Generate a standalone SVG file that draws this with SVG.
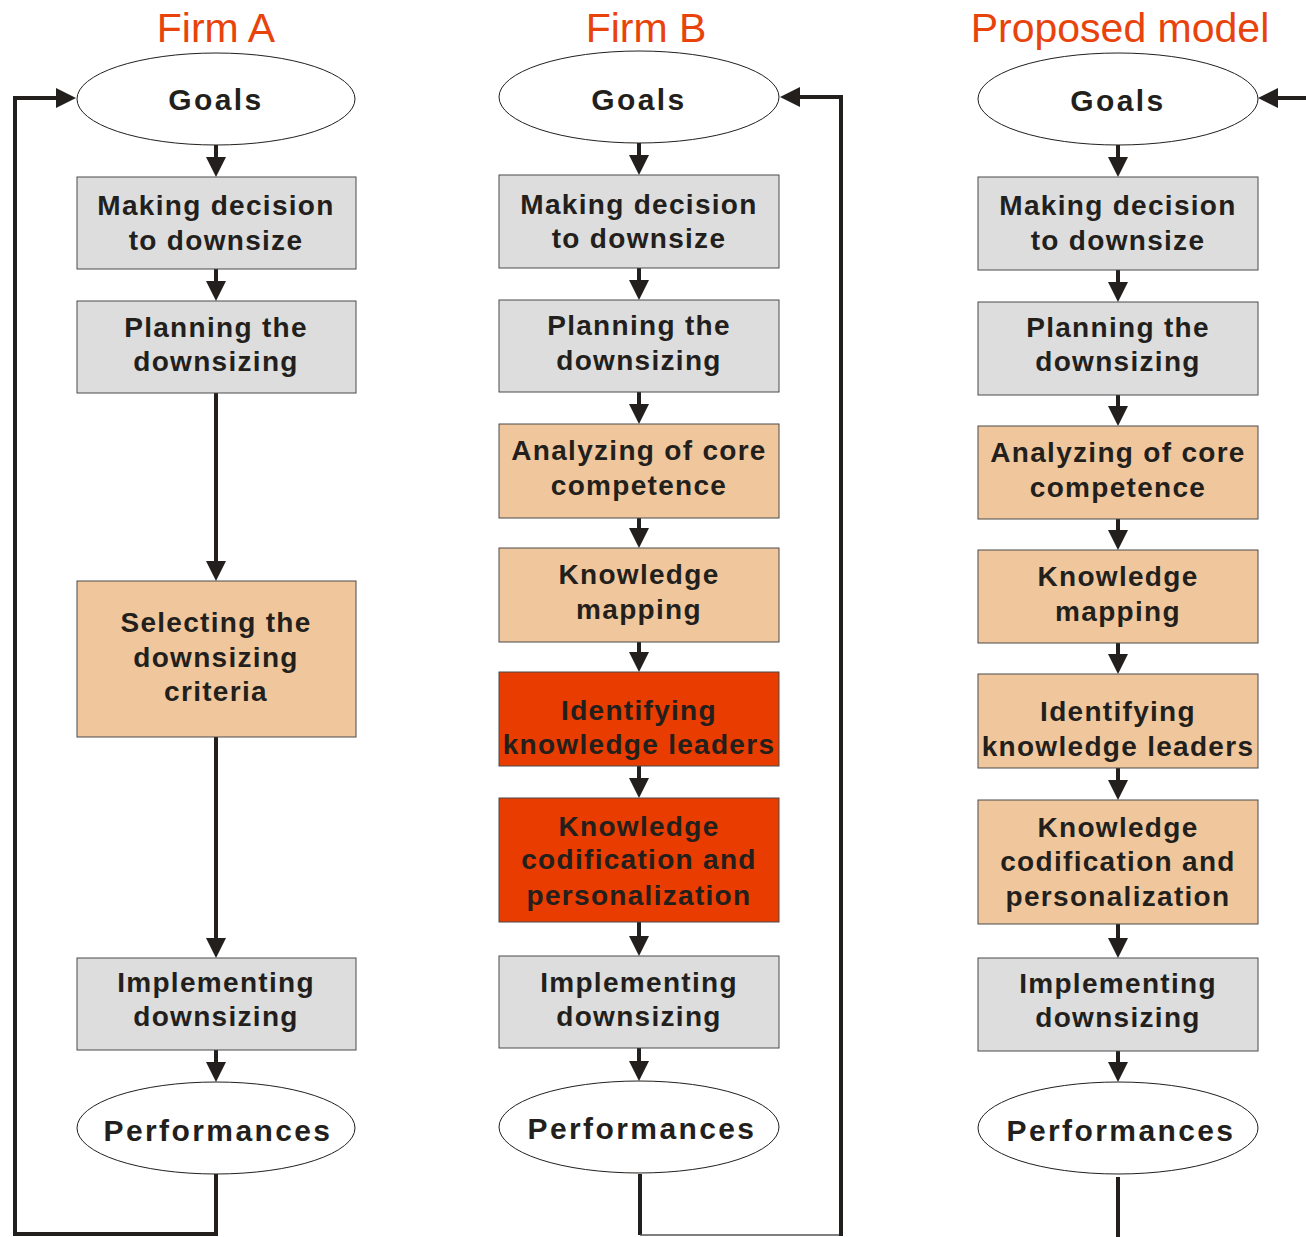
<svg xmlns="http://www.w3.org/2000/svg" width="1306" height="1237" viewBox="0 0 1306 1237">
<style>
.t{font-family:"Liberation Sans",Arial,sans-serif;font-weight:bold;font-size:28px;letter-spacing:1.3px;fill:#231f1c;text-anchor:middle}
.e{font-size:30px;letter-spacing:2.4px}
.title{font-family:"Liberation Sans",Arial,sans-serif;font-size:41px;fill:#e8430b;text-anchor:middle}
.g{fill:#dcdddc;stroke:#4a4a4a;stroke-width:1}
.o{fill:#f0c79c;stroke:#4a4a4a;stroke-width:1}
.r{fill:#e83c00;stroke:#4a4a4a;stroke-width:1}
.el{fill:#fff;stroke:#231f1c;stroke-width:1}
.c{fill:none;stroke:#231f1c;stroke-width:4}
.thin{fill:none;stroke:#555;stroke-width:1.5}
</style>
<defs>
<marker id="ah" viewBox="0 0 20 20" markerWidth="20" markerHeight="20" markerUnits="userSpaceOnUse" refX="0" refY="10" orient="auto">
<path d="M0,0 L20,10 L0,20 z" fill="#231f1c"/>
</marker>
</defs>
<rect width="1306" height="1237" fill="#fff"/>
<text class="title" x="216" y="42">Firm A</text>
<text class="title" x="646" y="42">Firm B</text>
<text class="title" x="1120" y="42">Proposed model</text>

<g id="connectors">
<!-- Firm A -->
<path class="c" d="M216,145 V157" marker-end="url(#ah)"/>
<path class="c" d="M216,269 V281" marker-end="url(#ah)"/>
<path class="c" d="M216,393 V561" marker-end="url(#ah)"/>
<path class="c" d="M216,737 V938" marker-end="url(#ah)"/>
<path class="c" d="M216,1050 V1062" marker-end="url(#ah)"/>
<path class="c" d="M216,1174 V1234 H15 V98 H56" marker-end="url(#ah)"/>
<!-- Firm B -->
<path class="c" d="M639,143 V155" marker-end="url(#ah)"/>
<path class="c" d="M639,268 V280" marker-end="url(#ah)"/>
<path class="c" d="M639,392 V404" marker-end="url(#ah)"/>
<path class="c" d="M639,518 V528" marker-end="url(#ah)"/>
<path class="c" d="M639,642 V652" marker-end="url(#ah)"/>
<path class="c" d="M639,766 V778" marker-end="url(#ah)"/>
<path class="c" d="M639,922 V936" marker-end="url(#ah)"/>
<path class="c" d="M639,1048 V1061" marker-end="url(#ah)"/>
<path class="c" d="M640,1174 V1235"/>
<path class="thin" d="M640,1235 H841"/>
<path class="c" d="M841,1236 V97 H800" marker-end="url(#ah)"/>
<!-- Proposed -->
<path class="c" d="M1118,145 V157" marker-end="url(#ah)"/>
<path class="c" d="M1118,270 V282" marker-end="url(#ah)"/>
<path class="c" d="M1118,395 V406" marker-end="url(#ah)"/>
<path class="c" d="M1118,519 V530" marker-end="url(#ah)"/>
<path class="c" d="M1118,643 V654" marker-end="url(#ah)"/>
<path class="c" d="M1118,768 V780" marker-end="url(#ah)"/>
<path class="c" d="M1118,924 V938" marker-end="url(#ah)"/>
<path class="c" d="M1118,1051 V1062" marker-end="url(#ah)"/>
<path class="c" d="M1118,1177 V1237"/>
<path class="c" d="M1306,98 H1278" marker-end="url(#ah)"/>
</g>

<!-- Firm A nodes -->
<g id="a_goals"><ellipse class="el" cx="216" cy="99" rx="139" ry="46"/><text class="t e" x="216" y="110">Goals</text></g>
<g id="a_decision"><rect class="g" x="77" y="177" width="279" height="92"/><text class="t" x="216" y="215">Making decision</text><text class="t" x="216" y="250">to downsize</text></g>
<g id="a_planning"><rect class="g" x="77" y="301" width="279" height="92"/><text class="t" x="216" y="337">Planning the</text><text class="t" x="216" y="371">downsizing</text></g>
<g id="a_selecting"><rect class="o" x="77" y="581" width="279" height="156"/><text class="t" x="216" y="632">Selecting the</text><text class="t" x="216" y="667">downsizing</text><text class="t" x="216" y="701">criteria</text></g>
<g id="a_implementing"><rect class="g" x="77" y="958" width="279" height="92"/><text class="t" x="216" y="992">Implementing</text><text class="t" x="216" y="1026">downsizing</text></g>
<g id="a_performances"><ellipse class="el" cx="216" cy="1128" rx="139" ry="46"/><text class="t e" x="218" y="1141">Performances</text></g>

<!-- Firm B nodes -->
<g id="b_goals"><ellipse class="el" cx="639" cy="97" rx="140" ry="46"/><text class="t e" x="639" y="110">Goals</text></g>
<g id="b_decision"><rect class="g" x="499" y="175" width="280" height="93"/><text class="t" x="639" y="214">Making decision</text><text class="t" x="639" y="248">to downsize</text></g>
<g id="b_planning"><rect class="g" x="499" y="300" width="280" height="92"/><text class="t" x="639" y="335">Planning the</text><text class="t" x="639" y="370">downsizing</text></g>
<g id="b_analyzing"><rect class="o" x="499" y="424" width="280" height="94"/><text class="t" x="639" y="460">Analyzing of core</text><text class="t" x="639" y="495">competence</text></g>
<g id="b_mapping"><rect class="o" x="499" y="548" width="280" height="94"/><text class="t" x="639" y="584">Knowledge</text><text class="t" x="639" y="619">mapping</text></g>
<g id="b_identifying"><rect class="r" x="499" y="672" width="280" height="94"/><text class="t" x="639" y="720">Identifying</text><text class="t" x="639" y="754">knowledge leaders</text></g>
<g id="b_codification"><rect class="r" x="499" y="798" width="280" height="124"/><text class="t" x="639" y="836">Knowledge</text><text class="t" x="639" y="869">codification and</text><text class="t" x="639" y="905">personalization</text></g>
<g id="b_implementing"><rect class="g" x="499" y="956" width="280" height="92"/><text class="t" x="639" y="992">Implementing</text><text class="t" x="639" y="1026">downsizing</text></g>
<g id="b_performances"><ellipse class="el" cx="639" cy="1127" rx="140" ry="46"/><text class="t e" x="642" y="1139">Performances</text></g>

<!-- Proposed nodes -->
<g id="p_goals"><ellipse class="el" cx="1118" cy="99" rx="140" ry="46"/><text class="t e" x="1118" y="111">Goals</text></g>
<g id="p_decision"><rect class="g" x="978" y="177" width="280" height="93"/><text class="t" x="1118" y="215">Making decision</text><text class="t" x="1118" y="250">to downsize</text></g>
<g id="p_planning"><rect class="g" x="978" y="302" width="280" height="93"/><text class="t" x="1118" y="337">Planning the</text><text class="t" x="1118" y="371">downsizing</text></g>
<g id="p_analyzing"><rect class="o" x="978" y="426" width="280" height="93"/><text class="t" x="1118" y="462">Analyzing of core</text><text class="t" x="1118" y="497">competence</text></g>
<g id="p_mapping"><rect class="o" x="978" y="550" width="280" height="93"/><text class="t" x="1118" y="586">Knowledge</text><text class="t" x="1118" y="621">mapping</text></g>
<g id="p_identifying"><rect class="o" x="978" y="674" width="280" height="94"/><text class="t" x="1118" y="721">Identifying</text><text class="t" x="1118" y="756">knowledge leaders</text></g>
<g id="p_codification"><rect class="o" x="978" y="800" width="280" height="124"/><text class="t" x="1118" y="837">Knowledge</text><text class="t" x="1118" y="871">codification and</text><text class="t" x="1118" y="906">personalization</text></g>
<g id="p_implementing"><rect class="g" x="978" y="958" width="280" height="93"/><text class="t" x="1118" y="993">Implementing</text><text class="t" x="1118" y="1027">downsizing</text></g>
<g id="p_performances"><ellipse class="el" cx="1118" cy="1128" rx="140" ry="46"/><text class="t e" x="1121" y="1141">Performances</text></g>
</svg>
